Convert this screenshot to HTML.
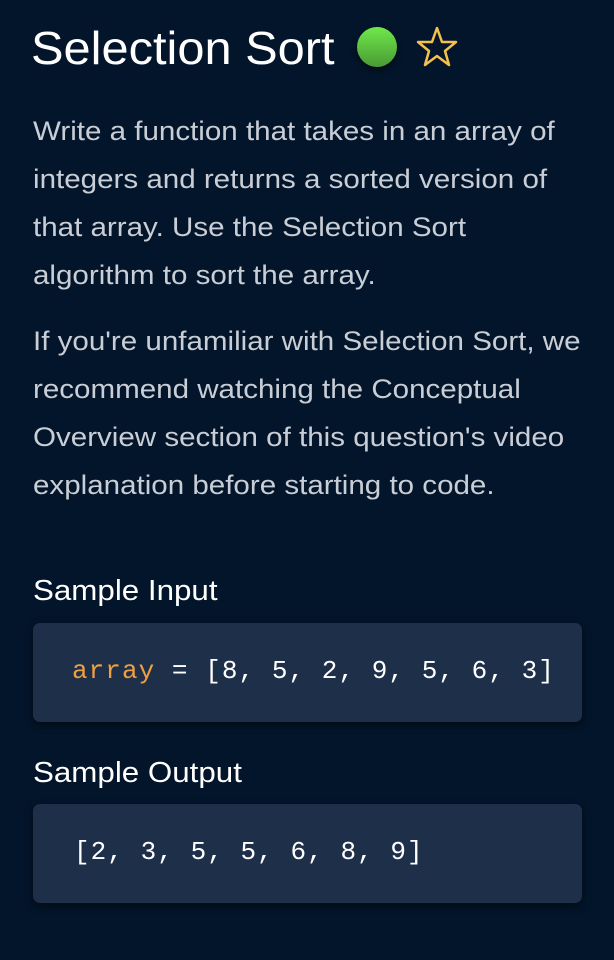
<!DOCTYPE html>
<html><head><style>
body{margin:0;width:614px;height:960px;background:#03152a;font-family:"Liberation Sans",sans-serif;overflow:hidden;position:relative;color:#fff}
.a{position:absolute;white-space:nowrap;transform-origin:0 0}
.p{font-size:26.5px;color:#c9ced6;left:33px;transform:scaleX(1.115)}
.h{font-size:29px;color:#fff;left:33px;transform:scaleX(1.08)}
.box{position:absolute;left:33px;width:549px;height:99px;background:#1e2f4a;border-radius:7px;box-shadow:0 3px 8px rgba(0,0,0,.5)}
.code{position:absolute;font-family:"Liberation Mono",monospace;font-size:26px;color:#fff;white-space:pre;letter-spacing:1.05px}
</style></head><body>
<div class="a" style="left:31px;top:21px;font-size:46px;transform:scaleX(1.06)">Selection Sort</div>
<div class="a" style="left:357px;top:27px;width:40px;height:40px;border-radius:50%;background:linear-gradient(#6fe84a,#4a9a35);box-shadow:0 3px 6px rgba(0,0,0,.5)"></div>
<svg class="a" style="left:415px;top:25px" width="44" height="44" viewBox="0 0 44 44"><polygon points="22,3 27,17 41,17 30,26 34,40 22,31 10,40 14,26 3,17 17,17" fill="none" stroke="#f2c14e" stroke-width="2.5" stroke-linejoin="round"/></svg>
<div class="a p" style="top:116px">Write a function that takes in an array of</div>
<div class="a p" style="top:164px">integers and returns a sorted version of</div>
<div class="a p" style="top:212px">that array. Use the Selection Sort</div>
<div class="a p" style="top:260px">algorithm to sort the array.</div>
<div class="a p" style="top:326px">If you're unfamiliar with Selection Sort, we</div>
<div class="a p" style="top:374px">recommend watching the Conceptual</div>
<div class="a p" style="top:422px">Overview section of this question's video</div>
<div class="a p" style="top:470px">explanation before starting to code.</div>
<div class="a h" style="top:575px">Sample Input</div>
<div class="box" style="top:623px"></div>
<div class="code" style="left:72px;top:656px"><span style="color:#f0a040">array</span> = [8, 5, 2, 9, 5, 6, 3]</div>
<div class="a h" style="top:757px">Sample Output</div>
<div class="box" style="top:804px"></div>
<div class="code" style="left:74px;top:837px">[2, 3, 5, 5, 6, 8, 9]</div>
</body></html>
